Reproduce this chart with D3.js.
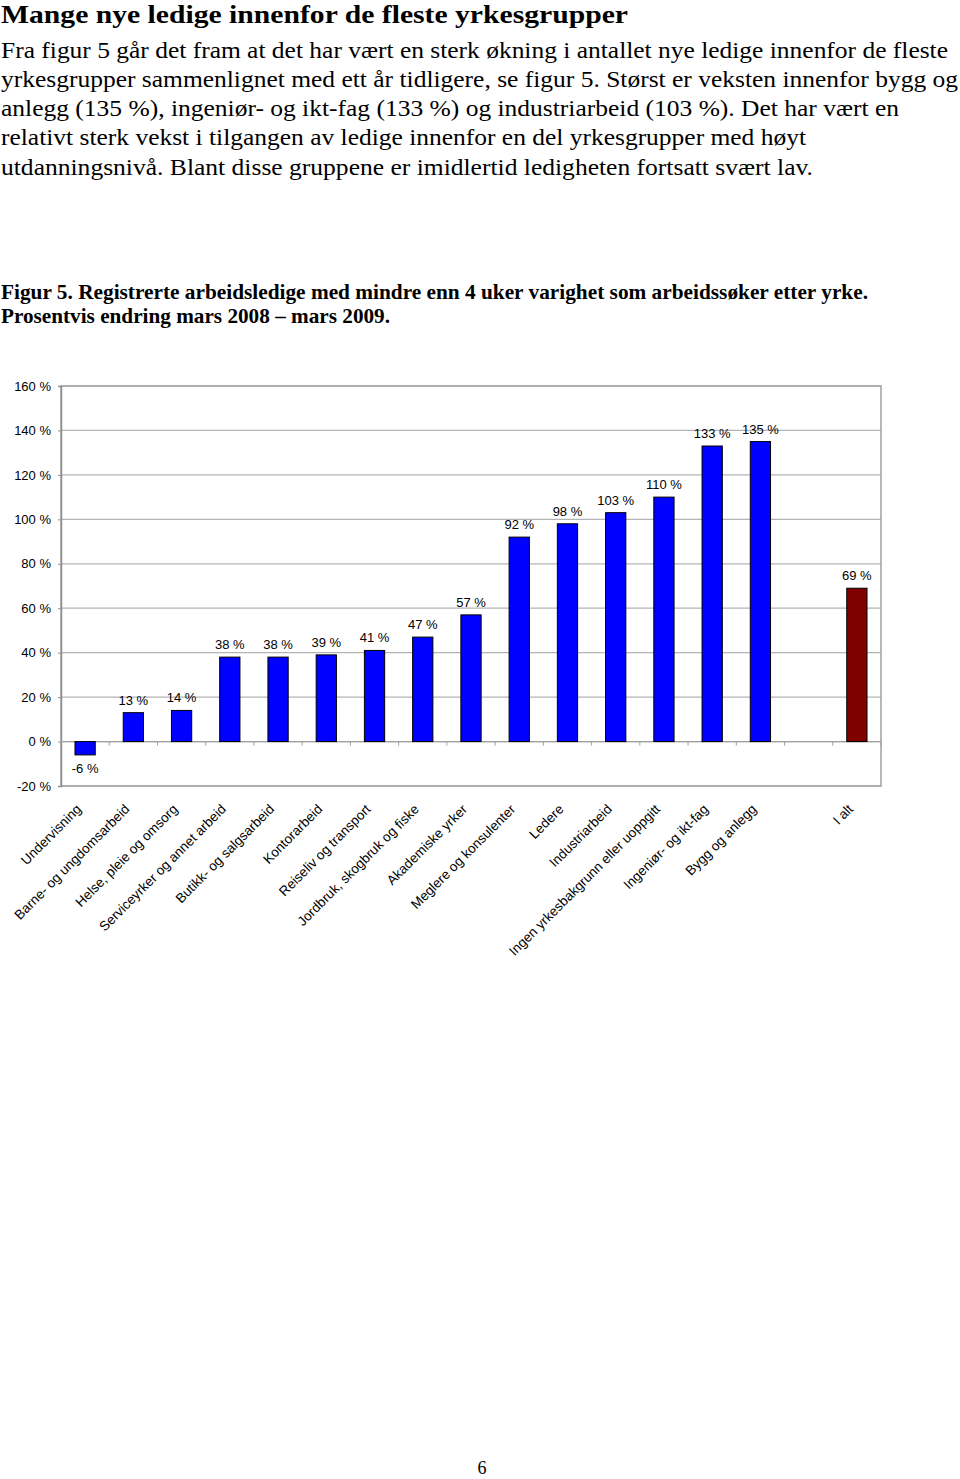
<!DOCTYPE html>
<html><head><meta charset="utf-8">
<script src="https://cdn.jsdelivr.net/npm/d3@7/dist/d3.min.js"></script>
<style>
body{margin:0;background:#fff;}
svg{display:block;}
</style></head>
<body>
<svg id="page" width="960" height="1479"></svg>
<script>
const titleText = "Mange nye ledige innenfor de fleste yrkesgrupper";
const bodyLines = [
  "Fra figur 5 går det fram at det har vært en sterk økning i antallet nye ledige innenfor de fleste",
  "yrkesgrupper sammenlignet med ett år tidligere, se figur 5. Størst er veksten innenfor bygg og",
  "anlegg (135 %), ingeniør- og ikt-fag (133 %) og industriarbeid (103 %). Det har vært en",
  "relativt sterk vekst i tilgangen av ledige innenfor en del yrkesgrupper med høyt",
  "utdanningsnivå. Blant disse gruppene er imidlertid ledigheten fortsatt svært lav."
];
const captionLines = [
  "Figur 5. Registrerte arbeidsledige med mindre enn 4 uker varighet som arbeidssøker etter yrke.",
  "Prosentvis endring mars 2008 – mars 2009."
];
const categories = [
  "Undervisning","Barne- og ungdomsarbeid","Helse, pleie og omsorg","Serviceyrker og annet arbeid",
  "Butikk- og salgsarbeid","Kontorarbeid","Reiseliv og transport","Jordbruk, skogbruk og fiske",
  "Akademiske yrker","Meglere og konsulenter","Ledere","Industriarbeid",
  "Ingen yrkesbakgrunn eller uoppgitt","Ingeniør- og ikt-fag","Bygg og anlegg","","I alt"
];
const values = [-6,13,14,38,38,39,41,47,57,92,98,103,110,133,135,null,69];
const totalCategory = "I alt";
const yTicks = [-20,0,20,40,60,80,100,120,140,160];
const pageNumber = "6";

(function(){
const svg = d3.select("#page");
const serif = "'Liberation Serif','Times New Roman',Times,serif";
const sans = "'Liberation Sans',Arial,Helvetica,sans-serif";

svg.append("text").attr("x",1).attr("y",23).attr("font-family",serif).attr("font-weight","bold")
  .attr("font-size",25).attr("textLength",627).attr("lengthAdjust","spacingAndGlyphs").text(titleText);

const bodyEnds = [948,958,899,806,813];
bodyLines.forEach((t,i)=>{
  svg.append("text").attr("x",1).attr("y",57.5+i*29.3).attr("font-family",serif)
    .attr("font-size",23.5).attr("textLength",bodyEnds[i]-1).attr("lengthAdjust","spacingAndGlyphs").text(t);
});
const capEnds = [868,390];
captionLines.forEach((t,i)=>{
  svg.append("text").attr("x",1).attr("y",298.5+i*24).attr("font-family",serif).attr("font-weight","bold")
    .attr("font-size",22).attr("textLength",capEnds[i]-1).attr("lengthAdjust","spacingAndGlyphs").text(t);
});

const pl=61, pr=881, pt=386, pb=786;
const x = d3.scaleBand().domain(categories).range([pl,pr]).paddingInner(0).paddingOuter(0);
const y = d3.scaleLinear().domain([-20,160]).range([pb,pt]);

const g = svg.append("g");
g.selectAll("line.grid").data(yTicks).join("line").attr("class","grid")
  .attr("x1",pl).attr("x2",pr).attr("y1",d=>y(d)).attr("y2",d=>y(d))
  .attr("stroke","#b4b4b4").attr("stroke-width",1.2);
g.append("rect").attr("x",pl).attr("y",pt).attr("width",pr-pl).attr("height",pb-pt)
  .attr("fill","none").attr("stroke","#a0a0a0").attr("stroke-width",1.5);

const yAxis = d3.axisLeft(y).tickValues(yTicks).tickSize(3).tickPadding(7).tickFormat(d=>d+" %");
const ya = g.append("g").attr("transform",`translate(${pl},0)`).call(yAxis);
ya.select(".domain").attr("stroke","#909090").attr("stroke-width",1.5);
ya.selectAll(".tick line").attr("stroke","#909090");
ya.selectAll("text").attr("font-family",sans).attr("font-size",13).attr("fill","#000");

const bounds = categories.map(c=>x(c)).concat([pr]);
g.append("line").attr("x1",pl).attr("x2",pr).attr("y1",y(0)).attr("y2",y(0))
  .attr("stroke","#a0a0a0").attr("stroke-width",1.2);
g.selectAll("line.xt").data(bounds).join("line").attr("class","xt")
  .attr("x1",d=>d).attr("x2",d=>d).attr("y1",y(0)).attr("y2",y(0)+4)
  .attr("stroke","#a0a0a0");

const bw = x.bandwidth()*0.42;
const data = categories.map((c,i)=>({c,v:values[i]})).filter(d=>d.v!==null);
g.selectAll("rect.bar").data(data).join("rect").attr("class","bar")
  .attr("x",d=>x(d.c)+x.bandwidth()/2-bw/2).attr("width",bw)
  .attr("y",d=>y(Math.max(0,d.v))).attr("height",d=>Math.abs(y(d.v)-y(0)))
  .attr("fill",d=>d.c===totalCategory?"#800000":"#0000ff").attr("stroke","#000").attr("stroke-width",1);

g.selectAll("text.val").data(data).join("text").attr("class","val")
  .attr("x",d=>x(d.c)+x.bandwidth()/2).attr("y",d=>d.v<0?y(d.v)+18:y(d.v)-8)
  .attr("text-anchor","middle").attr("font-family",sans).attr("font-size",13).text(d=>d.v+" %");

g.selectAll("text.cat").data(categories.filter(c=>c!=="")).join("text").attr("class","cat")
  .attr("transform",d=>`translate(${x(d)+x.bandwidth()/2-3},${pb+24}) rotate(-45)`)
  .attr("text-anchor","end").attr("font-family",sans).attr("font-size",13.5).text(d=>d);

svg.append("text").attr("x",482).attr("y",1474).attr("text-anchor","middle")
  .attr("font-family",serif).attr("font-size",18).text(pageNumber);
})();
</script>
</body></html>
